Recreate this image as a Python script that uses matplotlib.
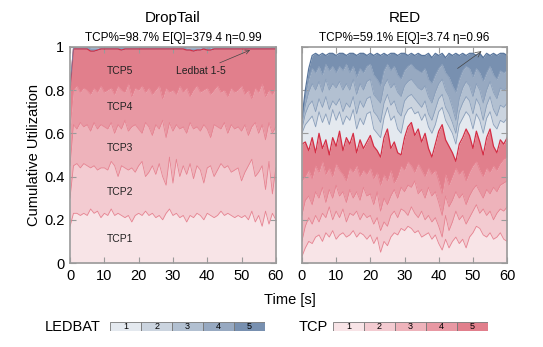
import numpy as np
import matplotlib
matplotlib.use('Agg')
import matplotlib.pyplot as plt
from matplotlib import rcParams

rcParams['font.family'] = ['Liberation Sans', 'DejaVu Sans']
rcParams['xtick.direction'] = 'in'
rcParams['ytick.direction'] = 'in'

# time axis [s], one sample per second
t = np.arange(0, 61)

# DropTail: cumulative utilization (top of each stacked flow)
dt_tcp1 = [0.17, 0.23, 0.23, 0.22, 0.23, 0.22, 0.25, 0.23, 0.24, 0.21,
           0.23, 0.22, 0.25, 0.22, 0.23, 0.22, 0.21, 0.22, 0.19, 0.22,
           0.23, 0.22, 0.24, 0.22, 0.23, 0.21, 0.22, 0.20, 0.23, 0.25,
           0.22, 0.23, 0.21, 0.22, 0.19, 0.22, 0.21, 0.23, 0.22, 0.20,
           0.23, 0.22, 0.21, 0.22, 0.24, 0.22, 0.23, 0.22, 0.21, 0.22,
           0.21, 0.22, 0.20, 0.24, 0.19, 0.22, 0.17, 0.24, 0.18, 0.23,
           0.20]
dt_tcp2 = [0.30, 0.45, 0.46, 0.44, 0.46, 0.45, 0.44, 0.45, 0.43, 0.44,
           0.44, 0.43, 0.47, 0.45, 0.40, 0.45, 0.44, 0.43, 0.44, 0.42,
           0.45, 0.47, 0.40, 0.42, 0.45, 0.41, 0.46, 0.40, 0.36, 0.49,
           0.37, 0.48, 0.40, 0.45, 0.41, 0.46, 0.39, 0.45, 0.43, 0.37,
           0.44, 0.45, 0.40, 0.43, 0.46, 0.44, 0.45, 0.42, 0.43, 0.44,
           0.38, 0.42, 0.45, 0.48, 0.40, 0.42, 0.45, 0.34, 0.47, 0.32,
           0.44]
dt_tcp3 = [0.45, 0.64, 0.62, 0.65, 0.63, 0.64, 0.61, 0.65, 0.62, 0.64,
           0.63, 0.62, 0.65, 0.60, 0.64, 0.62, 0.66, 0.61, 0.63, 0.64,
           0.62, 0.60, 0.65, 0.63, 0.59, 0.64, 0.62, 0.66, 0.58, 0.65,
           0.61, 0.64, 0.62, 0.63, 0.60, 0.65, 0.62, 0.63, 0.61, 0.64,
           0.62, 0.58, 0.64, 0.63, 0.62, 0.65, 0.60, 0.64, 0.62, 0.63,
           0.61, 0.64, 0.59, 0.63, 0.65, 0.60, 0.64, 0.57, 0.65, 0.60,
           0.63]
dt_tcp4 = [0.62, 0.80, 0.82, 0.79, 0.81, 0.80, 0.78, 0.81, 0.79, 0.82,
           0.79, 0.80, 0.81, 0.78, 0.82, 0.80, 0.79, 0.83, 0.77, 0.81,
           0.80, 0.82, 0.79, 0.81, 0.78, 0.80, 0.82, 0.76, 0.81, 0.79,
           0.80, 0.78, 0.82, 0.79, 0.81, 0.77, 0.80, 0.82, 0.79, 0.80,
           0.81, 0.78, 0.80, 0.82, 0.79, 0.80, 0.77, 0.81, 0.79, 0.80,
           0.82, 0.78, 0.80, 0.76, 0.81, 0.79, 0.83, 0.77, 0.80, 0.78,
           0.81]
dt_tcp5 = [0.80, 0.99, 0.99, 0.99, 0.99, 0.99, 0.98, 0.98, 0.985, 0.99,
           0.99, 0.99, 0.99, 0.99, 0.99, 0.985, 0.99, 0.99, 0.99, 0.99,
           0.99, 0.99, 0.99, 0.99, 0.99, 0.99, 0.99, 0.99, 0.99, 0.99,
           0.99, 0.99, 0.99, 0.99, 0.985, 0.985, 0.98, 0.985, 0.985, 0.99,
           0.985, 0.985, 0.99, 0.99, 0.99, 0.99, 0.99, 0.99, 0.99, 0.99,
           0.99, 0.99, 0.99, 0.99, 0.99, 0.99, 0.99, 0.99, 0.99, 0.99,
           0.99]
dt_led = [0.82, 1.0, 1.0, 1.0, 1.0, 1.0, 0.995, 0.995, 0.995, 1.0,
          1.0, 1.0, 1.0, 1.0, 1.0, 1.0, 1.0, 1.0, 1.0, 1.0,
          1.0, 1.0, 1.0, 1.0, 1.0, 1.0, 1.0, 1.0, 1.0, 1.0,
          1.0, 1.0, 1.0, 1.0, 0.995, 0.995, 0.995, 0.995, 0.995, 1.0,
          1.0, 0.995, 1.0, 1.0, 1.0, 1.0, 1.0, 1.0, 1.0, 1.0,
          1.0, 1.0, 1.0, 1.0, 1.0, 1.0, 1.0, 1.0, 1.0, 1.0,
          1.0]

# RED: cumulative utilization (TCP1-5 then LEDBAT1-5)
red_tcp1 = [0.03, 0.07, 0.10, 0.09, 0.12, 0.13, 0.10, 0.14, 0.12, 0.15,
            0.11, 0.13, 0.14, 0.12, 0.13, 0.15, 0.12, 0.14, 0.13, 0.11,
            0.13, 0.09, 0.12, 0.05, 0.10, 0.08, 0.12, 0.14, 0.13, 0.16,
            0.15, 0.17, 0.16, 0.14, 0.15, 0.12, 0.13, 0.14, 0.11, 0.13,
            0.09, 0.06, 0.11, 0.07, 0.10, 0.12, 0.09, 0.11, 0.07, 0.12,
            0.14, 0.17, 0.16, 0.13, 0.12, 0.14, 0.11, 0.12, 0.14, 0.11,
            0.10]
red_tcp2 = [0.10, 0.17, 0.21, 0.18, 0.22, 0.19, 0.23, 0.21, 0.26, 0.20,
            0.24, 0.21, 0.25, 0.19, 0.23, 0.22, 0.24, 0.20, 0.23, 0.21,
            0.22, 0.18, 0.21, 0.15, 0.19, 0.17, 0.22, 0.24, 0.21, 0.25,
            0.24, 0.22, 0.26, 0.23, 0.21, 0.24, 0.20, 0.22, 0.19, 0.21,
            0.17, 0.12, 0.22, 0.15, 0.19, 0.24, 0.20, 0.22, 0.18, 0.21,
            0.24, 0.27, 0.23, 0.25, 0.22, 0.24, 0.20, 0.23, 0.25, 0.24,
            0.26]
red_tcp3 = [0.22, 0.29, 0.31, 0.27, 0.33, 0.30, 0.35, 0.28, 0.34, 0.30,
            0.36, 0.31, 0.33, 0.28, 0.34, 0.30, 0.33, 0.29, 0.35, 0.31,
            0.32, 0.27, 0.33, 0.24, 0.30, 0.27, 0.31, 0.34, 0.30, 0.35,
            0.33, 0.36, 0.35, 0.38, 0.32, 0.34, 0.30, 0.35, 0.31, 0.33,
            0.28, 0.22, 0.31, 0.26, 0.29, 0.33, 0.30, 0.32, 0.27, 0.31,
            0.34, 0.36, 0.33, 0.30, 0.34, 0.32, 0.35, 0.33, 0.36, 0.37,
            0.38]
red_tcp4 = [0.38, 0.40, 0.43, 0.39, 0.45, 0.42, 0.47, 0.41, 0.44, 0.40,
            0.46, 0.43, 0.41, 0.38, 0.44, 0.42, 0.45, 0.40, 0.43, 0.41,
            0.44, 0.39, 0.42, 0.36, 0.41, 0.38, 0.43, 0.37, 0.40, 0.45,
            0.43, 0.47, 0.45, 0.42, 0.46, 0.43, 0.40, 0.44, 0.41, 0.43,
            0.38, 0.32, 0.41, 0.36, 0.40, 0.44, 0.41, 0.43, 0.38, 0.42,
            0.45, 0.47, 0.43, 0.40, 0.44, 0.42, 0.45, 0.43, 0.46, 0.48,
            0.49]
red_tcp5 = [0.55, 0.56, 0.52, 0.58, 0.51, 0.60, 0.53, 0.57, 0.50, 0.58,
            0.54, 0.61, 0.52, 0.58, 0.55, 0.60, 0.51, 0.57, 0.53, 0.56,
            0.59, 0.54, 0.52, 0.49, 0.58, 0.62, 0.53, 0.56, 0.51, 0.50,
            0.58, 0.63, 0.65, 0.59, 0.62, 0.56, 0.60, 0.53, 0.49, 0.55,
            0.61, 0.64, 0.57, 0.54, 0.51, 0.47, 0.55, 0.58, 0.62, 0.59,
            0.53, 0.61, 0.56, 0.50, 0.58, 0.62, 0.54, 0.51, 0.57, 0.55,
            0.58]
red_led1 = [0.60, 0.64, 0.66, 0.68, 0.63, 0.70, 0.65, 0.69, 0.64, 0.71,
            0.66, 0.70, 0.64, 0.68, 0.66, 0.71, 0.62, 0.67, 0.64, 0.69,
            0.70, 0.62, 0.60, 0.58, 0.67, 0.72, 0.66, 0.68, 0.62, 0.60,
            0.68, 0.71, 0.72, 0.69, 0.70, 0.66, 0.69, 0.63, 0.60, 0.64,
            0.70, 0.72, 0.66, 0.63, 0.60, 0.55, 0.64, 0.67, 0.70, 0.68,
            0.62, 0.69, 0.66, 0.60, 0.67, 0.70, 0.64, 0.62, 0.66, 0.65,
            0.67]
red_led2 = [0.62, 0.69, 0.73, 0.75, 0.70, 0.76, 0.72, 0.77, 0.71, 0.75,
            0.73, 0.76, 0.70, 0.74, 0.72, 0.77, 0.69, 0.75, 0.72, 0.76,
            0.77, 0.70, 0.68, 0.65, 0.74, 0.78, 0.73, 0.75, 0.70, 0.68,
            0.75, 0.77, 0.78, 0.76, 0.74, 0.72, 0.75, 0.69, 0.66, 0.71,
            0.76, 0.78, 0.72, 0.69, 0.65, 0.60, 0.70, 0.74, 0.77, 0.75,
            0.69, 0.76, 0.73, 0.66, 0.73, 0.77, 0.71, 0.68, 0.73, 0.72,
            0.74]
red_led3 = [0.64, 0.73, 0.79, 0.83, 0.80, 0.84, 0.79, 0.85, 0.80, 0.83,
            0.81, 0.84, 0.80, 0.83, 0.80, 0.85, 0.78, 0.83, 0.80, 0.84,
            0.85, 0.78, 0.76, 0.74, 0.82, 0.85, 0.81, 0.83, 0.79, 0.77,
            0.82, 0.84, 0.85, 0.83, 0.81, 0.80, 0.82, 0.77, 0.74, 0.79,
            0.83, 0.85, 0.80, 0.77, 0.72, 0.66, 0.76, 0.81, 0.84, 0.82,
            0.77, 0.83, 0.80, 0.74, 0.80, 0.84, 0.79, 0.76, 0.81, 0.80,
            0.81]
red_led4 = [0.66, 0.77, 0.85, 0.90, 0.88, 0.91, 0.87, 0.92, 0.89, 0.91,
            0.88, 0.91, 0.89, 0.92, 0.88, 0.91, 0.86, 0.90, 0.88, 0.91,
            0.92, 0.87, 0.85, 0.82, 0.89, 0.92, 0.89, 0.91, 0.87, 0.85,
            0.89, 0.91, 0.92, 0.90, 0.89, 0.88, 0.90, 0.85, 0.83, 0.87,
            0.90, 0.92, 0.88, 0.86, 0.82, 0.79, 0.85, 0.89, 0.91, 0.90,
            0.86, 0.90, 0.88, 0.84, 0.88, 0.91, 0.87, 0.85, 0.89, 0.88,
            0.89]
red_led5 = [0.67, 0.80, 0.90, 0.96, 0.97, 0.96, 0.97, 0.96, 0.97, 0.97,
            0.96, 0.97, 0.97, 0.96, 0.97, 0.97, 0.96, 0.97, 0.97, 0.96,
            0.97, 0.96, 0.97, 0.96, 0.97, 0.96, 0.97, 0.97, 0.96, 0.97,
            0.97, 0.96, 0.97, 0.96, 0.97, 0.96, 0.96, 0.97, 0.95, 0.97,
            0.96, 0.97, 0.95, 0.97, 0.96, 0.97, 0.96, 0.97, 0.96, 0.97,
            0.97, 0.96, 0.97, 0.95, 0.97, 0.96, 0.97, 0.96, 0.97, 0.97,
            0.96]

tcp_labels = ['TCP1', 'TCP2', 'TCP3', 'TCP4', 'TCP5']
tcp_label_y = [0.11, 0.33, 0.53, 0.72, 0.89]
legend_ids = ['1', '2', '3', '4', '5']

# colours
tcp_fill = ['#f8e4e7', '#f3cbd1', '#eeb3bb', '#e898a3', '#e17f8c']
tcp_edge = '#e68391'
tcp_top = '#d42e45'
led_fill = ['#e4e9ef', '#cbd4df', '#b2c0d1', '#97a9c1', '#7890b0']
led_edge = '#8a9fbb'
frame_c = '#9a9a9a'


def stack(ax, layers, fills, edges, widths):
    lower = np.zeros(len(t))
    for upper, fc, ec, lw in zip(layers, fills, edges, widths):
        upper = np.array(upper)
        ax.fill_between(t, lower, upper, color=fc, lw=0)
        ax.plot(t, upper, color=ec, lw=lw)
        lower = upper


def style(ax, title, sub):
    ax.set_xlim(0, 60)
    ax.set_ylim(0, 1)
    ax.set_xticks([0, 10, 20, 30, 40, 50, 60])
    ax.set_yticks([0, 0.2, 0.4, 0.6, 0.8, 1])
    ax.tick_params(top=True, right=True, length=4, width=0.8, color=frame_c,
                   labelsize=10.5, pad=4)
    for s in ax.spines.values():
        s.set_color(frame_c)
        s.set_linewidth(1.2)
    ax.text(0.5, 1.135, title, transform=ax.transAxes, ha='center',
            va='center', fontsize=11)
    ax.text(0.5, 1.04, sub, transform=ax.transAxes, ha='center',
            va='center', fontsize=8.5)


fig = plt.figure(figsize=(5.43, 3.47), dpi=100)
ax1 = fig.add_axes([0.129, 0.242, 0.379, 0.623])
ax2 = fig.add_axes([0.556, 0.242, 0.378, 0.623])

# DropTail
stack(ax1, [dt_tcp1, dt_tcp2, dt_tcp3, dt_tcp4, dt_tcp5, dt_led],
      tcp_fill + ['#8aa0bd'],
      [tcp_edge] * 4 + [tcp_top, '#6f88aa'],
      [0.6] * 4 + [0.9, 0.6])
style(ax1, 'DropTail', 'TCP%=98.7% E[Q]=379.4 \u03b7=0.99')
ax1.set_yticklabels(['0', '0.2', '0.4', '0.6', '0.8', '1'])
ax1.set_ylabel('Cumulative Utilization', fontsize=10.5, labelpad=2)
for lab, yy in zip(tcp_labels, tcp_label_y):
    ax1.text(14.5, yy, lab, ha='center', va='center', fontsize=7.5, color='#222222')
ax1.annotate('Ledbat 1-5', xy=(52.5, 0.985), xytext=(31, 0.89),
             fontsize=7.5, color='#222222', va='center',
             arrowprops=dict(arrowstyle='->', lw=0.5, color='#444444',
                             shrinkA=0, shrinkB=0))

# RED
stack(ax2, [red_tcp1, red_tcp2, red_tcp3, red_tcp4, red_tcp5,
            red_led1, red_led2, red_led3, red_led4, red_led5],
      tcp_fill + led_fill,
      [tcp_edge] * 4 + [tcp_top] + [led_edge] * 4 + ['#58759c'],
      [0.6] * 4 + [0.9] + [0.6] * 4 + [0.9])
style(ax2, 'RED', 'TCP%=59.1% E[Q]=3.74 \u03b7=0.96')
ax2.set_yticklabels([])
ax2.annotate('', xy=(52.5, 0.98), xytext=(45.5, 0.90),
             arrowprops=dict(arrowstyle='->', lw=0.5, color='#444444',
                             shrinkA=0, shrinkB=0))

fig.text(0.533, 0.135, 'Time [s]', ha='center', va='center', fontsize=10.5)

# colour keys
fig.text(0.133, 0.058, 'LEDBAT', ha='center', va='center', fontsize=10.5)
fig.text(0.577, 0.058, 'TCP', ha='center', va='center', fontsize=10.5)
for x0, fills in [(0.203, led_fill), (0.613, tcp_fill)]:
    kax = fig.add_axes([x0, 0.045, 0.285, 0.026])
    kax.barh([0] * 5, [1] * 5, left=np.arange(5), height=1, color=fills,
             edgecolor='#777777', linewidth=0.6)
    for i, s in enumerate(legend_ids):
        kax.text(i + 0.5, 0, s, ha='center', va='center', fontsize=6.5)
    kax.set_xlim(0, 5)
    kax.set_ylim(-0.5, 0.5)
    kax.axis('off')

fig.savefig('out.png', dpi=100)
